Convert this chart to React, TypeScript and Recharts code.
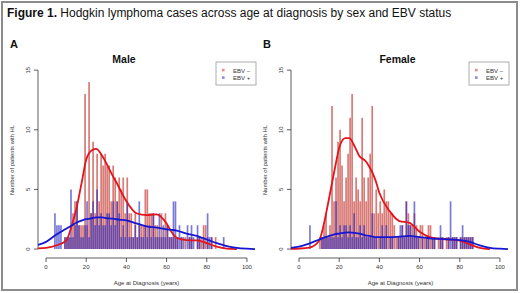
import React from 'react'
import { ComposedChart, Bar, Line, XAxis, YAxis, ReferenceLine } from 'recharts'

// lower edge of each 1-year age bin
const ageBins = [
  4, 5, 6, 7, 8, 9, 10, 11, 12, 13,
  14, 15, 16, 17, 18, 19, 20, 21, 22, 23,
  24, 25, 26, 27, 28, 29, 30, 31, 32, 33,
  34, 35, 36, 37, 38, 39, 40, 41, 42, 43,
  44, 45, 46, 47, 48, 49, 50, 51, 52, 53,
  54, 55, 56, 57, 58, 59, 60, 61, 62, 63,
  64, 65, 66, 67, 68, 69, 70, 71, 72, 73,
  74, 75, 76, 77, 78, 79, 80, 81, 82, 83,
  84, 85, 86, 87, 88, 89,
]

const maleEbvNeg = [
  0, 0, 0, 0, 0, 1, 1, 1, 1, 3,
  4, 4, 2, 2, 2, 13, 2, 14, 3, 9,
  3, 8, 4, 8, 7, 8, 7, 7, 4, 7,
  6, 4, 6, 5, 6, 3, 6, 3, 3, 1,
  3, 1, 2, 2, 2, 5, 5, 3, 3, 3,
  2, 2, 1, 3, 1, 3, 2, 1, 1, 1,
  1, 1, 0, 1, 0, 1, 0, 1, 1, 0,
  0, 1, 1, 1, 2, 2, 1, 0, 1, 0,
  1, 0, 0, 0, 0, 0,
]
const maleEbvPos = [
  3, 2, 2, 2, 0, 1, 1, 1, 5, 1,
  2, 4, 2, 1, 1, 2, 4, 1, 3, 4,
  2, 5, 2, 3, 2, 2, 3, 3, 2, 4,
  2, 4, 3, 1, 2, 1, 4, 1, 1, 1,
  2, 1, 4, 1, 1, 2, 1, 2, 1, 3,
  1, 1, 3, 1, 2, 1, 2, 1, 1, 4,
  4, 1, 2, 1, 1, 0, 2, 1, 2, 1,
  0, 2, 1, 0, 1, 0, 3, 1, 1, 0,
  0, 0, 0, 0, 1, 0,
]
const femaleEbvNeg = [
  0, 0, 0, 0, 0, 0, 1, 1, 2, 3,
  1, 2, 12, 4, 6, 9, 10, 7, 4, 6,
  8, 11, 13, 4, 6, 5, 4, 11, 6, 4,
  6, 8, 12, 3, 5, 3, 4, 3, 5, 4,
  4, 3, 3, 2, 1, 1, 1, 2, 1, 4,
  3, 2, 2, 3, 2, 1, 2, 2, 1, 1,
  2, 2, 1, 1, 0, 1, 1, 1, 0, 1,
  1, 0, 1, 1, 1, 0, 1, 1, 1, 1,
  1, 1, 1, 0, 0, 0,
]
const femaleEbvPos = [
  0, 2, 0, 0, 0, 0, 0, 1, 1, 1,
  1, 1, 1, 1, 4, 1, 2, 1, 2, 2,
  1, 2, 1, 3, 1, 1, 2, 1, 2, 1,
  1, 1, 3, 1, 1, 0, 1, 2, 1, 2,
  0, 1, 1, 0, 0, 1, 2, 2, 1, 4,
  2, 2, 1, 4, 1, 1, 0, 1, 0, 1,
  1, 0, 1, 1, 0, 0, 2, 1, 0, 0,
  1, 4, 1, 1, 1, 0, 1, 2, 1, 1,
  1, 1, 1, 0, 0, 0,
]

// smoothed density curves (in counts)
const curveAges = [-4, 0, 5, 10, 13, 15, 18, 20, 23, 25, 28, 30, 33, 35, 38, 40, 45, 50, 55, 60, 63, 65, 70, 75, 80, 85, 90, 95, 100, 104]
const maleNegCurve = [0.05, 0.1, 0.3, 0.7, 2.1, 3.3, 5.8, 7.5, 8.3, 8.4, 7.8, 7.2, 6.2, 5.6, 4.6, 4.0, 3.0, 2.85, 2.9, 2.15, 1.3, 0.95, 0.75, 0.72, 0.5, 0.2, 0.04, 0, null, null]
const malePosCurve = [0.35, 0.6, 1.2, 1.7, 2.0, 2.2, 2.4, 2.5, 2.6, 2.65, 2.65, 2.6, 2.55, 2.5, 2.45, 2.4, 2.15, 1.9, 1.8, 1.65, 1.6, 1.55, 1.3, 1.1, 0.8, 0.5, 0.25, 0.1, 0.03, 0]
const femaleNegCurve = [0.02, 0.04, 0.12, 0.7, 2.6, 4.3, 6.9, 8.5, 9.3, 9.3, 8.5, 7.8, 7.4, 6.9, 5.8, 4.7, 3.2, 2.35, 2.2, 1.45, 1.15, 1.0, 0.85, 0.8, 0.7, 0.4, 0.1, 0, null, null]
const femalePosCurve = [0.1, 0.2, 0.45, 0.8, 1.0, 1.1, 1.25, 1.3, 1.38, 1.4, 1.35, 1.3, 1.15, 1.1, 1.0, 1.0, 1.0, 1.05, 1.1, 1.0, 0.95, 0.9, 0.85, 0.8, 0.75, 0.6, 0.3, 0.1, 0.03, 0]

const xTicks = [0, 20, 40, 60, 80, 100]
const yTicks = [0, 5, 10, 15]
const X_DOMAIN: [number, number] = [-4, 106]

const RED_FILL = 'rgba(205, 85, 80, 0.78)'
const BLUE_FILL = 'rgba(40, 40, 190, 0.62)'
const FONT = '"Liberation Sans", Arial, sans-serif'

function YTick({ x, y, payload }: any) {
  return (
    <text
      transform={`translate(${x - 2.5},${y}) rotate(-90)`}
      textAnchor="middle"
      fontSize={6}
      fill="#333"
      fontFamily={FONT}
    >
      {payload.value}
    </text>
  )
}

interface PanelProps {
  neg: number[]
  pos: number[]
  negCurve: (number | null)[]
  posCurve: (number | null)[]
  left: number
}

function Panel({ neg, pos, negCurve, posCurve, left }: PanelProps) {
  const bars = ageBins.map((a, i) => ({ age: a + 0.5, neg: neg[i], pos: pos[i] }))
  const curve = curveAges.map((a, i) => ({ age: a, neg: negCurve[i], pos: posCurve[i] }))

  return (
    <div style={{ position: 'absolute', left, top: 0 }}>
      <ComposedChart
        width={260}
        height={293}
        data={bars}
        margin={{ top: 63, right: 1, bottom: 15, left: 18 }}
      >
        <XAxis
          xAxisId="a"
          type="number"
          dataKey="age"
          domain={X_DOMAIN}
          ticks={xTicks}
          interval={0}
          allowDataOverflow
          axisLine={false}
          tickLine={{ stroke: '#333', strokeWidth: 0.8 }}
          tickSize={4}
          tickMargin={3}
          height={20}
          tick={{ fontSize: 6, fill: '#333', fontFamily: FONT }}
        />
        {/* separate hidden axes so the overlapping bars and the curves don't share a band */}
        <XAxis xAxisId="b" type="number" dataKey="age" domain={X_DOMAIN} allowDataOverflow hide />
        <XAxis xAxisId="c" type="number" dataKey="age" domain={X_DOMAIN} allowDataOverflow hide />
        <YAxis
          type="number"
          domain={[-0.75, 15.6]}
          ticks={yTicks}
          interval={0}
          allowDataOverflow
          axisLine={false}
          tickLine={{ stroke: '#333', strokeWidth: 0.8 }}
          tickSize={4}
          width={20}
          tick={<YTick />}
        />
        <ReferenceLine
          xAxisId="a"
          segment={[{ x: 0, y: -0.75 }, { x: 100, y: -0.75 }]}
          stroke="#333"
          strokeWidth={0.8}
          ifOverflow="visible"
        />
        <ReferenceLine
          xAxisId="a"
          segment={[{ x: -4, y: 0 }, { x: -4, y: 15 }]}
          stroke="#333"
          strokeWidth={0.8}
          ifOverflow="visible"
        />
        <Bar xAxisId="a" dataKey="neg" barSize={1.7} fill={RED_FILL} isAnimationActive={false} />
        <Bar xAxisId="b" dataKey="pos" barSize={1.7} fill={BLUE_FILL} isAnimationActive={false} />
        <Line
          xAxisId="c"
          data={curve}
          dataKey="neg"
          type="monotone"
          stroke="#e2141c"
          strokeWidth={1.8}
          dot={false}
          activeDot={false}
          isAnimationActive={false}
        />
        <Line
          xAxisId="c"
          data={curve}
          dataKey="pos"
          type="monotone"
          stroke="#1616d2"
          strokeWidth={1.8}
          dot={false}
          activeDot={false}
          isAnimationActive={false}
        />
      </ComposedChart>
    </div>
  )
}

function LegendBox({ x }: { x: number }) {
  return (
    <g fontFamily={FONT} fontSize={6} fill="#333">
      <rect x={x} y={62} width={40} height={23} fill="#fff" stroke="#999" strokeWidth={0.8} />
      <rect x={x + 6} y={68.8} width={2.6} height={2.6} fill="#e88a86" />
      <rect x={x + 6} y={76.3} width={2.6} height={2.6} fill="#8a8ae0" />
      <text x={x + 17} y={72.5}>EBV –</text>
      <text x={x + 17} y={80}>EBV +</text>
    </g>
  )
}

export default function App() {
  return (
    <div
      style={{
        position: 'absolute',
        left: 0,
        top: 0,
        width: 520,
        height: 293,
        background: '#fff',
        overflow: 'hidden',
      }}
    >
      <div
        style={{
          position: 'absolute',
          left: 1,
          top: 1,
          width: 513,
          height: 286,
          border: '2px solid #8c8c8c',
        }}
      />
      <Panel neg={maleEbvNeg} pos={maleEbvPos} negCurve={maleNegCurve} posCurve={malePosCurve} left={0} />
      <Panel neg={femaleEbvNeg} pos={femaleEbvPos} negCurve={femaleNegCurve} posCurve={femalePosCurve} left={253} />
      <svg
        width={520}
        height={293}
        style={{ position: 'absolute', left: 0, top: 0, pointerEvents: 'none' }}
      >
        <text x={7} y={16.6} fontFamily={FONT} fontSize={12} fill="#111">
          <tspan fontWeight="bold">Figure 1.</tspan> Hodgkin lymphoma cases across age at diagnosis by sex and EBV status
        </text>
        <text x={10} y={48} fontFamily={FONT} fontSize={11} fontWeight="bold" fill="#111">A</text>
        <text x={263} y={48} fontFamily={FONT} fontSize={11} fontWeight="bold" fill="#111">B</text>
        <text x={124} y={63} textAnchor="middle" fontFamily={FONT} fontSize={10.5} fontWeight="bold" fill="#111">Male</text>
        <text x={397.5} y={63} textAnchor="middle" fontFamily={FONT} fontSize={10.5} fontWeight="bold" fill="#111">Female</text>
        <text transform="translate(13.5,160) rotate(-90)" textAnchor="middle" fontFamily={FONT} fontSize={5.8} fill="#333">
          Number of patients with HL
        </text>
        <text transform="translate(267,160) rotate(-90)" textAnchor="middle" fontFamily={FONT} fontSize={5.8} fill="#333">
          Number of patients with HL
        </text>
        <text x={146.5} y={285} textAnchor="middle" fontFamily={FONT} fontSize={6} fill="#333">Age at Diagnosis (years)</text>
        <text x={400.5} y={285} textAnchor="middle" fontFamily={FONT} fontSize={6} fill="#333">Age at Diagnosis (years)</text>
        <LegendBox x={216} />
        <LegendBox x={469} />
      </svg>
    </div>
  )
}
